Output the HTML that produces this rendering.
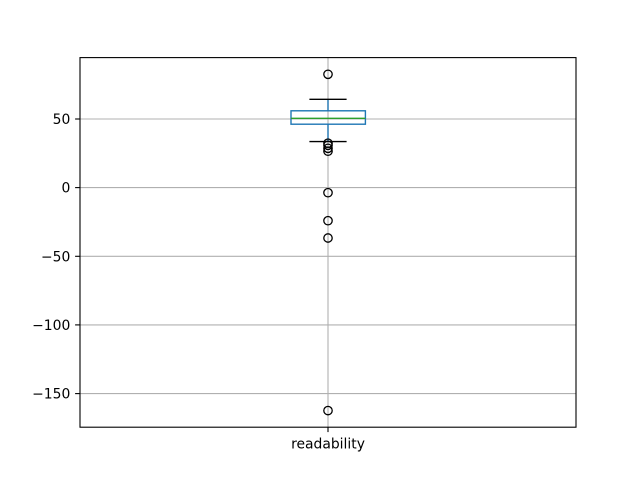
<!DOCTYPE html>
<html>
<head>
<meta charset="utf-8">
<style>
html,body{margin:0;padding:0;background:#fff;}
svg{display:block;}
text{font-family:"DejaVu Sans","Liberation Sans",sans-serif;font-size:13.9px;fill:#000;}
</style>
</head>
<body>
<svg width="640" height="480" viewBox="0 0 640 480" xmlns="http://www.w3.org/2000/svg">
<rect x="0" y="0" width="640" height="480" fill="#fff"/>
<!-- grid -->
<g stroke="#b0b0b0" stroke-width="1.1">
<line x1="80" y1="119" x2="576" y2="119"/>
<line x1="80" y1="187.6" x2="576" y2="187.6"/>
<line x1="80" y1="256.3" x2="576" y2="256.3"/>
<line x1="80" y1="324.9" x2="576" y2="324.9"/>
<line x1="80" y1="393.6" x2="576" y2="393.6"/>
<line x1="328" y1="57.6" x2="328" y2="427.2"/>
</g>
<!-- whiskers -->
<g stroke="#1f77b4" stroke-width="1.4" fill="none">
<line x1="328" y1="110.8" x2="328" y2="99.3"/>
<line x1="328" y1="124.2" x2="328" y2="141.6"/>
<rect x="291" y="110.8" width="74.4" height="13.4"/>
</g>
<!-- caps -->
<g stroke="#000" stroke-width="1.4">
<line x1="309.4" y1="99.3" x2="346.6" y2="99.3"/>
<line x1="309.4" y1="141.6" x2="346.6" y2="141.6"/>
</g>
<!-- median -->
<line x1="291" y1="118.3" x2="365.4" y2="118.3" stroke="#2ca02c" stroke-width="1.4"/>
<!-- fliers -->
<g stroke="#000" stroke-width="1.3" fill="none">
<circle cx="328" cy="74.3" r="4.2"/>
<circle cx="328" cy="143.2" r="4.2"/>
<circle cx="328" cy="145.3" r="4.2"/>
<circle cx="328" cy="148.3" r="4.2"/>
<circle cx="328" cy="151.2" r="4.2"/>
<circle cx="328" cy="192.7" r="4.2"/>
<circle cx="328" cy="220.7" r="4.2"/>
<circle cx="328" cy="238" r="4.2"/>
<circle cx="328" cy="410.6" r="4.2"/>
</g>
<!-- axes frame -->
<rect x="80" y="57.6" width="496" height="369.6" fill="none" stroke="#000" stroke-width="1.1"/>
<!-- ticks -->
<g stroke="#000" stroke-width="1.1">
<line x1="75.1" y1="119" x2="80" y2="119"/>
<line x1="75.1" y1="187.6" x2="80" y2="187.6"/>
<line x1="75.1" y1="256.3" x2="80" y2="256.3"/>
<line x1="75.1" y1="324.9" x2="80" y2="324.9"/>
<line x1="75.1" y1="393.6" x2="80" y2="393.6"/>
<line x1="328" y1="427.2" x2="328" y2="432.1"/>
</g>
<g text-anchor="end">
<text x="70.3" y="124">50</text>
<text x="70.3" y="192.6">0</text>
<text x="70.3" y="261.3">−50</text>
<text x="70.3" y="329.9">−100</text>
<text x="70.3" y="398.6">−150</text>
</g>
<text x="328" y="448.3" text-anchor="middle">readability</text>
</svg>
</body>
</html>
